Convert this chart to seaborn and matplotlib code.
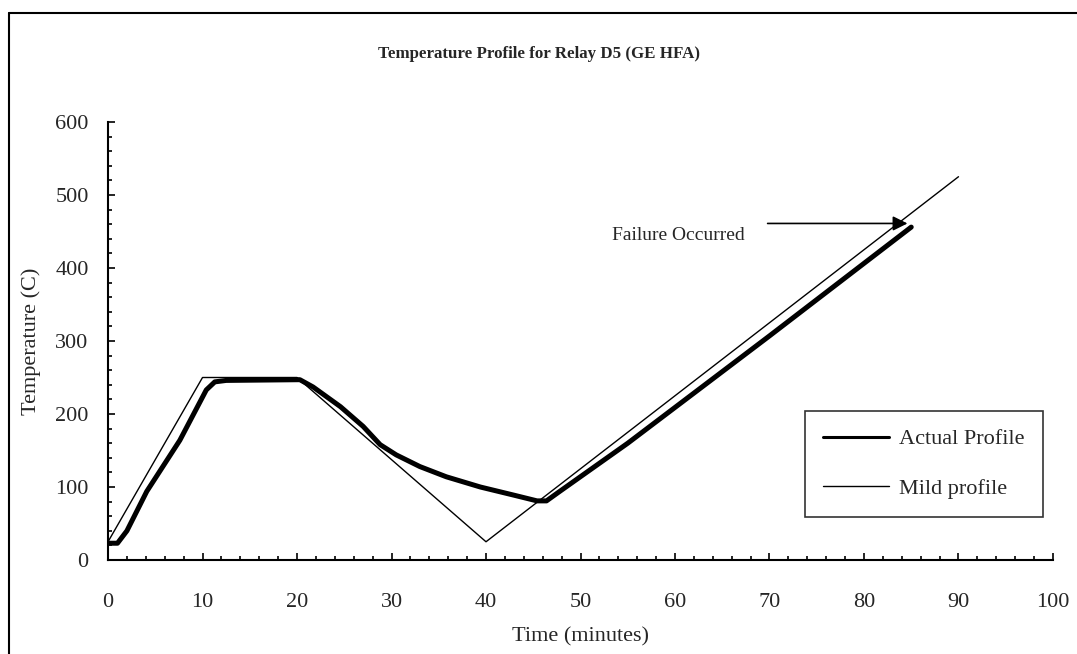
import numpy as np
import pandas as pd
import seaborn as sns
import matplotlib.pyplot as plt
from matplotlib.lines import Line2D
from matplotlib.ticker import MultipleLocator

# Actual measured profile (minutes, deg C)
actual_time = [0, 1, 2, 4.1, 7.6, 10.4, 11.3, 12.5, 20.3, 21.7, 24.6, 27.0, 28.8, 30.5,
               33.0, 35.8, 39.4, 42.9, 45.4, 46.4, 47.8, 55, 70, 85]
actual_temp = [23, 23, 40, 94, 164, 233, 244, 246, 247, 237, 210, 183, 158, 144,
               128, 114, 100, 89, 81, 81, 94, 160, 307, 456]

# Mild profile
mild_time = [0, 10, 20, 40, 90]
mild_temp = [25, 250, 250, 25, 525]

actual_df = pd.DataFrame({'time': actual_time, 'temp': actual_temp})
mild_df = pd.DataFrame({'time': mild_time, 'temp': mild_temp})

sns.set_style('ticks')
plt.rcParams['font.family'] = ['Liberation Serif', 'DejaVu Serif']

fig = plt.figure(figsize=(10.77, 6.54), dpi=100)
ax = fig.add_axes([0.1003, 0.1437, 0.8774, 0.6698])

sns.lineplot(data=actual_df, x='time', y='temp', ax=ax, color='black',
             linewidth=3.6, sort=False, label='Actual Profile', estimator=None)
sns.lineplot(data=mild_df, x='time', y='temp', ax=ax, color='black',
             linewidth=1.0, sort=False, label='Mild profile', estimator=None)

ax.set_xlim(0, 100)
ax.set_ylim(0, 600)
ax.xaxis.set_major_locator(MultipleLocator(10))
ax.xaxis.set_minor_locator(MultipleLocator(2))
ax.yaxis.set_major_locator(MultipleLocator(100))
ax.yaxis.set_minor_locator(MultipleLocator(20))
ax.tick_params(which='both', direction='in', color='black', width=1.2)
ax.tick_params(which='major', length=5, labelsize=16)
ax.tick_params(axis='x', which='major', pad=24)
ax.tick_params(axis='y', which='major', pad=14)
ax.tick_params(which='minor', length=3)
sns.despine(ax=ax)
for s in ['left', 'bottom']:
    ax.spines[s].set_linewidth(1.5)
    ax.spines[s].set_color('black')

ax.set_xlabel('Time (minutes)', fontsize=16, labelpad=11)
ax.set_ylabel('Temperature (C)', fontsize=16, labelpad=10)
fig.text(0.5, 0.918, 'Temperature Profile for Relay D5 (GE HFA)', ha='center',
         va='center', fontsize=12.2, fontweight='bold')

ax.annotate('', xy=(84.6, 461), xytext=(69.8, 461),
            arrowprops=dict(arrowstyle='-|>', color='black', lw=1.2, mutation_scale=22,
                            shrinkA=0, shrinkB=0))
ax.text(53.3, 445, 'Failure Occurred', fontsize=14, ha='left', va='center')

leg = ax.legend(loc='upper left', bbox_to_anchor=(0.7376, 0.340), fontsize=16,
                frameon=True, fancybox=False, edgecolor='black', handlelength=3.0,
                labelspacing=1.3, borderpad=0.8, handletextpad=0.45, borderaxespad=0)
leg.get_frame().set_linewidth(1.2)
leg.get_lines()[0].set_linewidth(2.2)

# outer chart frame (left and top edges visible)
fig.add_artist(Line2D([9 / 1077, 9 / 1077], [0, 1 - 13 / 654], color='black', lw=1.5,
                      transform=fig.transFigure))
fig.add_artist(Line2D([9 / 1077, 1], [1 - 13 / 654, 1 - 13 / 654], color='black', lw=1.5,
                      transform=fig.transFigure))

fig.savefig('out.png', dpi=100)
